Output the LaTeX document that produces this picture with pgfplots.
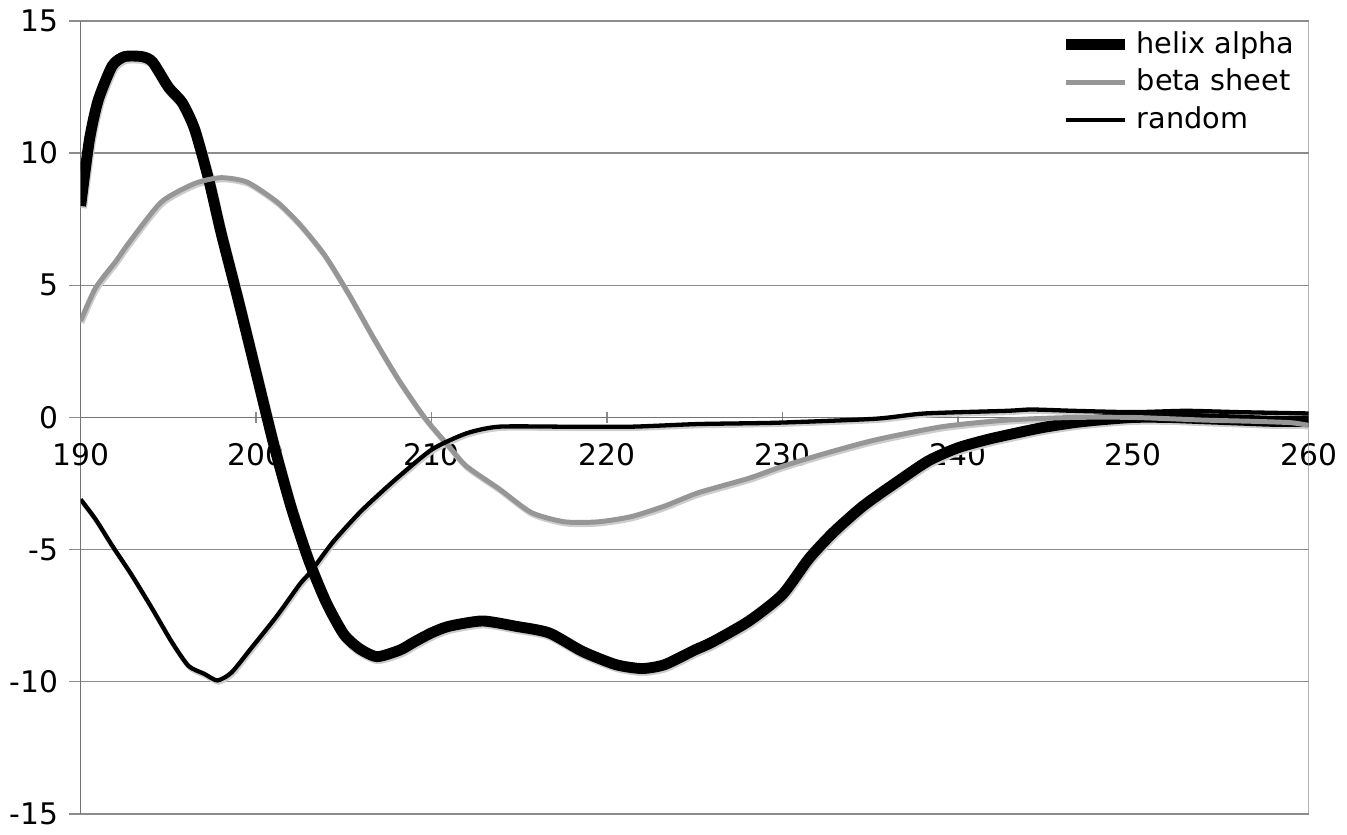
\documentclass[border=0pt]{standalone}
\usepackage{pgfplots}
\pgfplotsset{compat=1.18}
\usepackage{fontspec}
\setmainfont{DejaVu Sans}

\definecolor{gridgray}{RGB}{140,140,140}
\definecolor{betagray}{RGB}{150,150,150}
\definecolor{shadow}{RGB}{205,205,205}

\pgfplotstableread{
x y
190 8.0
190.5 10.5
191 12.0
191.8 13.3
192.5 13.65
193.5 13.65
194.1 13.45
195 12.5
195.8 11.9
196.5 10.9
197.3 9.0
198 7.0
199 4.4
200 1.7
201 -1.0
202 -3.4
203 -5.4
204 -7.0
205 -8.2
205.9 -8.75
206.9 -9.05
208.2 -8.8
209 -8.5
210 -8.15
211 -7.9
212.9 -7.7
214.8 -7.9
216.7 -8.15
218.6 -8.85
220.5 -9.35
222 -9.5
223.3 -9.35
225 -8.8
226 -8.5
228.1 -7.7
230 -6.7
231.5 -5.35
232.9 -4.35
234.6 -3.35
236.4 -2.5
238.3 -1.65
240 -1.15
241.9 -0.8
244.7 -0.4
246.6 -0.2
248 -0.1
250 0
252 0
254 -0.05
256 -0.1
258 -0.15
260 -0.15
}\helix

\pgfplotstableread{
x y
190 3.65
190.85 4.9
192 5.9
192.8 6.65
194.6 8.15
196.5 8.85
198 9.07
199.5 8.9
201.2 8.15
202.5 7.3
203.9 6.15
205.3 4.65
206.7 3.0
208.1 1.45
209.6 0.0
211 -1.1
212 -1.85
213.85 -2.7
215.7 -3.6
217.6 -3.95
219.5 -3.95
221.4 -3.75
223.3 -3.35
225.2 -2.85
228.1 -2.3
230 -1.85
232.5 -1.35
235.3 -0.85
239.1 -0.35
242.8 -0.1
246.6 0.0
250 0.0
254 -0.1
257 -0.15
259 -0.2
260 -0.3
}\beta

\pgfplotstableread{
x y
190 -3.1
190.85 -3.85
191.8 -4.85
192.9 -5.95
194.05 -7.2
195.2 -8.5
196.15 -9.4
197.05 -9.7
197.8 -9.95
198.6 -9.65
199.7 -8.75
201.2 -7.5
202.5 -6.3
203.1 -5.85
204.4 -4.7
205.9 -3.6
207.1 -2.85
208.2 -2.2
210.05 -1.2
212 -0.6
213.85 -0.35
217.6 -0.35
221.4 -0.35
225.2 -0.25
229.7 -0.2
235.3 -0.05
238.1 0.15
242.8 0.25
244.2 0.3
246.6 0.25
250 0.2
253 0.25
256 0.2
260 0.15
}\random

\begin{document}
\fontsize{9}{11}\selectfont
\begin{tikzpicture}
\begin{axis}[
    scale only axis,
    width=371.7pt, height=240pt,
    xmin=190, xmax=260, ymin=-15, ymax=15,
    enlargelimits=false,
    axis y line=left,
    axis x line=middle,
    axis line style={-, draw=gray!90!black, line width=0.5pt},
    xtick={190,200,...,260},
    ytick={-15,-10,...,15},
    hide obscured x ticks=false,
    ymajorgrids,
    grid style={gridgray, line width=0.45pt},
    y tick style={gridgray, line width=0.45pt},
    x tick style={gridgray, line width=0.45pt},
    ytick align=outside,
    major tick length=3.5pt,
    xticklabel style={yshift=-3pt},
    /pgf/number format/assume math mode=true,
    tick label style={font=\fontsize{9}{11}\selectfont},
    legend style={at={(rel axis cs:0.997,1.0)}, anchor=north east,
        draw=none, fill=none, font=\fontsize{8.7}{10.5}\selectfont,
        row sep=-0.6pt, inner sep=1pt},
    legend cell align=left,
    legend image code/.code={\draw[#1] (0cm,0cm) -- (0.62cm,0cm);},
]
\draw[gridgray, line width=0.45pt] (rel axis cs:1,0) -- (rel axis cs:1,1);
% soft shadows
\addplot[shadow, line width=3.3pt, smooth, tension=0.4, forget plot,
    transform canvas={xshift=0.3pt, yshift=-0.6pt}] table {\helix};
\addplot[shadow, line width=1.6pt, smooth, tension=0.4, forget plot,
    transform canvas={xshift=0.3pt, yshift=-0.6pt}] table {\beta};
\addplot[shadow, line width=1.4pt, smooth, tension=0.4, forget plot,
    transform canvas={xshift=0.3pt, yshift=-0.6pt}] table {\random};
% curves
\addplot[black, line width=3.3pt, smooth, tension=0.4] table {\helix};
\addplot[betagray, line width=1.5pt, smooth, tension=0.4] table {\beta};
\addplot[black, line width=1.3pt, smooth, tension=0.4] table {\random};
\legend{helix alpha, beta sheet, random}
\end{axis}
\end{tikzpicture}
\end{document}
